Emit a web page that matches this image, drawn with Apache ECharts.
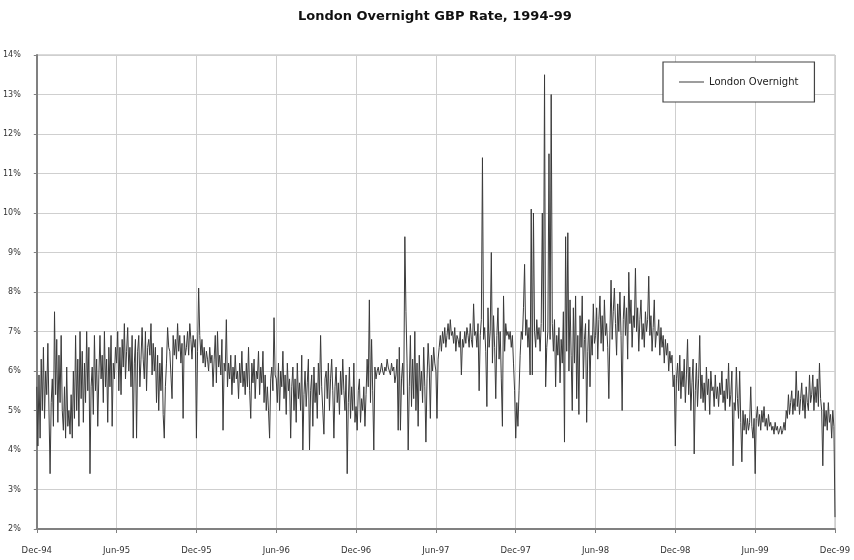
<!DOCTYPE html>
<html>
<head>
<meta charset="utf-8">
<script src="https://cdn.jsdelivr.net/npm/echarts@6/dist/echarts.min.js"></script>
<style>html,body{margin:0;padding:0;background:#fff}#c{width:854px;height:560px}</style>
</head>
<body>
<div id="c"></div>
<script>
// Tick labels on the x axis (every six months)
const tickLabels = ['Dec-94','Jun-95','Dec-95','Jun-96','Dec-96','Jun-97','Dec-97','Jun-98','Dec-98','Jun-99','Dec-99'];
// Readings (% rate), about twelve per month, one array per half-year
const h1 = [5.6,4.1,5.9,4.3,6.3,5.0,6.6,4.8,6.0,5.4,6.7,5.0,
  3.4,5.2,5.8,4.6,7.5,5.4,6.8,4.7,6.4,5.2,6.9,5.0,
  4.5,5.6,4.3,6.1,4.6,5.0,4.4,5.4,4.3,6.0,4.8,6.9,
  5.0,6.3,4.6,7.0,5.3,6.5,4.7,6.2,5.2,7.0,5.5,6.6,
  3.4,5.6,6.1,4.9,6.9,5.5,6.3,4.6,5.9,6.9,5.8,6.4,
  5.2,7.0,5.6,6.3,4.7,6.6,5.6,6.9,4.6,6.2,5.8,6.6];
const h2 = [6.2,7.0,5.5,6.6,5.4,6.8,6.1,7.2,5.8,6.5,7.1,6.0,
  6.6,5.6,6.9,4.3,6.2,6.8,4.3,6.5,6.9,5.6,6.3,7.1,
  6.3,5.8,7.0,5.5,6.6,6.8,6.4,7.2,5.9,6.7,6.0,6.6,
  5.2,6.4,5.0,6.2,5.5,6.6,4.9,4.3,5.6,6.2,7.1,6.6,
  6.5,5.9,5.3,6.9,6.4,6.8,6.3,7.2,6.5,6.9,6.2,6.7,
  4.8,6.9,6.4,6.6,7.0,6.4,7.2,6.8,6.3,6.9,6.6,6.8];
const h3 = [4.3,6.5,8.1,6.9,6.4,6.8,6.2,6.6,6.1,6.5,6.3,6.0,
  6.6,6.2,6.4,5.6,6.3,6.9,5.7,7.0,6.1,6.4,5.9,6.8,
  4.5,6.2,6.0,7.3,5.6,6.2,5.8,6.4,5.4,6.1,5.7,6.4,
  5.8,6.0,5.3,6.2,5.7,6.5,5.6,6.0,5.4,6.2,5.6,6.6,
  5.5,4.8,6.2,5.7,6.3,5.3,6.0,5.8,6.5,5.4,6.1,5.7,
  6.5,5.2,5.9,5.0,5.6,5.0,4.3,5.8,6.1,5.5,7.35,5.9];
const h4 = [5.8,5.2,6.2,5.0,6.0,5.6,6.5,5.3,5.9,4.9,6.2,5.5,
  5.8,4.3,5.6,6.1,5.0,5.8,4.7,6.2,5.3,5.7,5.0,6.4,
  4.0,5.4,6.0,5.1,5.7,6.3,4.0,5.5,5.9,4.6,6.1,5.2,
  5.7,4.8,6.2,5.4,6.9,5.6,5.0,4.4,5.8,6.0,5.3,6.2,
  5.0,5.8,6.3,5.5,4.3,5.6,6.1,5.2,5.7,4.9,6.0,5.4,
  6.3,5.5,5.0,5.9,3.4,5.2,6.1,4.8,5.6,5.0,6.2,4.7];
const h5 = [5.1,4.5,5.5,5.8,4.7,5.3,5.0,5.6,4.6,5.4,6.3,5.6,
  7.8,5.2,6.8,5.5,4.0,6.1,5.8,6.0,6.1,5.9,6.0,6.2,
  6.0,5.9,6.1,6.0,6.3,6.1,6.0,5.9,6.2,6.0,6.1,5.7,
  5.9,6.3,4.5,6.6,4.5,5.8,6.2,5.4,9.4,7.5,6.2,4.0,
  5.6,6.9,5.1,6.3,5.3,7.0,5.0,6.2,4.6,6.4,5.5,6.0,
  5.2,6.6,5.6,4.2,5.8,6.7,6.1,4.8,6.4,6.0,6.6,6.2];
const h6 = [6.0,4.8,6.3,6.6,6.9,6.5,7.0,6.7,7.1,6.6,6.9,7.2,
  6.8,7.3,6.9,7.0,6.7,7.1,6.5,6.9,6.8,6.6,7.0,5.9,
  6.8,6.6,7.0,6.7,7.1,6.9,6.6,7.2,6.8,6.6,7.7,6.9,
  7.0,6.6,7.2,5.5,6.9,7.3,11.4,6.8,7.1,6.5,5.1,7.6,
  6.6,7.0,9.0,6.2,7.4,6.6,5.3,6.9,7.6,6.3,7.0,5.8,
  4.6,7.9,6.5,7.2,6.9,7.0,6.8,7.0,6.6,6.9,6.2,5.5];
const h7 = [4.3,5.2,4.6,5.5,6.4,7.0,6.8,7.6,8.7,6.9,7.3,6.6,
  7.1,5.9,10.1,5.9,10.0,7.0,6.6,7.3,6.8,7.1,6.5,7.2,
  10.0,7.0,13.5,5.6,6.6,7.0,11.5,6.8,13.0,7.2,6.5,7.3,
  5.6,6.9,6.4,7.1,5.7,6.8,6.2,7.5,4.2,9.4,6.5,9.5,
  6.0,7.8,6.4,5.0,7.6,6.2,7.9,5.3,6.9,4.9,7.4,6.6,
  7.9,5.8,6.8,7.2,4.7,6.5,7.3,5.6,6.9,6.4,7.7,6.7];
const h8 = [6.9,7.6,6.3,7.3,7.9,6.7,7.4,6.5,7.8,6.9,7.2,6.6,
  5.3,7.0,8.3,6.8,7.5,8.1,7.2,6.4,7.7,7.0,8.0,6.9,
  5.0,7.3,7.9,6.9,7.6,6.3,8.5,7.2,7.8,6.6,7.4,7.1,
  8.6,7.0,7.6,6.5,7.3,7.8,6.8,7.2,6.6,7.5,7.0,7.3,
  8.4,6.9,7.4,6.5,7.1,7.8,6.6,7.0,6.9,7.3,6.4,7.1,
  6.6,6.9,6.2,6.8,6.4,6.7,6.0,6.5,6.2,6.4,5.6,5.9];
const h9 = [4.1,5.8,6.2,5.5,6.4,5.3,6.0,5.6,6.3,5.2,5.9,6.8,
  5.4,6.1,5.0,5.7,6.3,3.9,5.5,6.2,5.1,5.8,6.9,5.3,
  5.9,5.2,5.7,5.0,6.1,5.4,5.8,4.9,6.0,5.5,5.6,5.1,
  5.9,5.3,5.6,5.1,5.7,5.4,6.0,5.2,5.5,5.0,5.8,5.3,
  6.2,5.1,5.4,6.0,3.6,5.2,5.0,6.1,5.3,4.8,6.0,4.7,
  3.7,5.0,4.5,4.9,4.4,4.8,4.5,4.7,5.6,4.6,4.3,4.8];
const h10 = [3.4,4.8,5.1,4.6,4.9,4.5,5.0,4.7,5.1,4.6,4.8,4.5,
  4.9,4.6,4.7,4.5,4.6,4.4,4.7,4.5,4.6,4.4,4.5,4.6,
  4.4,4.5,4.7,4.5,5.0,4.8,5.4,4.9,5.2,5.5,4.9,5.3,
  5.0,6.0,5.1,5.5,4.9,5.3,5.7,5.0,5.4,4.8,5.6,5.2,
  5.0,5.9,5.2,5.4,5.9,5.0,5.6,5.2,5.8,5.1,6.2,5.3,
  5.0,3.6,5.2,4.6,5.0,4.5,5.2,4.7,4.9,4.3,5.0,4.6];
const lastValue = [2.3];

const rates = [].concat(h1,h2,h3,h4,h5,h6,h7,h8,h9,h10,lastValue);
const perHalfYear = h1.length;
const categories = rates.map((_, i) => 'p' + i);

const chart = echarts.init(document.getElementById('c'), null, {renderer: 'canvas'});
chart.setOption({
  animation: false,
  backgroundColor: '#ffffff',
  title: {
    text: 'London Overnight GBP Rate, 1994-99',
    left: 430, top: 5, textAlign: 'center',
    textStyle: {fontFamily: 'DejaVu Sans', fontSize: 13, fontWeight: 'bold', color: '#111'}
  },
  legend: {
    data: ['London Overnight'],
    left: 663, top: 62,
    padding: [15, 16, 15, 16],
    backgroundColor: '#fff',
    borderColor: '#444', borderWidth: 1.2,
    icon: 'rect', itemWidth: 25, itemHeight: 1, itemGap: 4,
    textStyle: {fontFamily: 'DejaVu Sans', fontSize: 10, color: '#222'}
  },
  grid: {left: 35, top: 55, width: 800, height: 474, show: true, borderColor: '#b5b5b5', borderWidth: 1},
  xAxis: {
    type: 'category', data: categories, boundaryGap: false,
    axisLine: {show: true, lineStyle: {color: '#808080', width: 2}},
    axisTick: {show: true, interval: perHalfYear - 1, length: 4, lineStyle: {color: '#808080'}},
    axisLabel: {
      interval: perHalfYear - 1, margin: 17,
      fontFamily: 'DejaVu Sans', fontSize: 8.5, color: '#333',
      formatter: (v, i) => tickLabels[Math.round(i / perHalfYear)]
    },
    splitLine: {show: true, interval: perHalfYear - 1, lineStyle: {color: '#cfcfcf', width: 1}}
  },
  yAxis: {
    type: 'value', min: 2, max: 14, interval: 1,
    axisLine: {show: true, lineStyle: {color: '#808080', width: 2}},
    axisTick: {show: true, length: 3, lineStyle: {color: '#808080'}},
    axisLabel: {formatter: '{value}%', margin: 16, fontFamily: 'DejaVu Sans', fontSize: 8, color: '#333'},
    splitLine: {show: true, lineStyle: {color: '#cfcfcf', width: 1}}
  },
  series: [{
    name: 'London Overnight', type: 'line', data: rates,
    symbol: 'none', showSymbol: false, sampling: null,
    lineStyle: {color: '#3a3a3a', width: 1},
    itemStyle: {color: '#3a3a3a'}
  }]
});
</script>
</body>
</html>
